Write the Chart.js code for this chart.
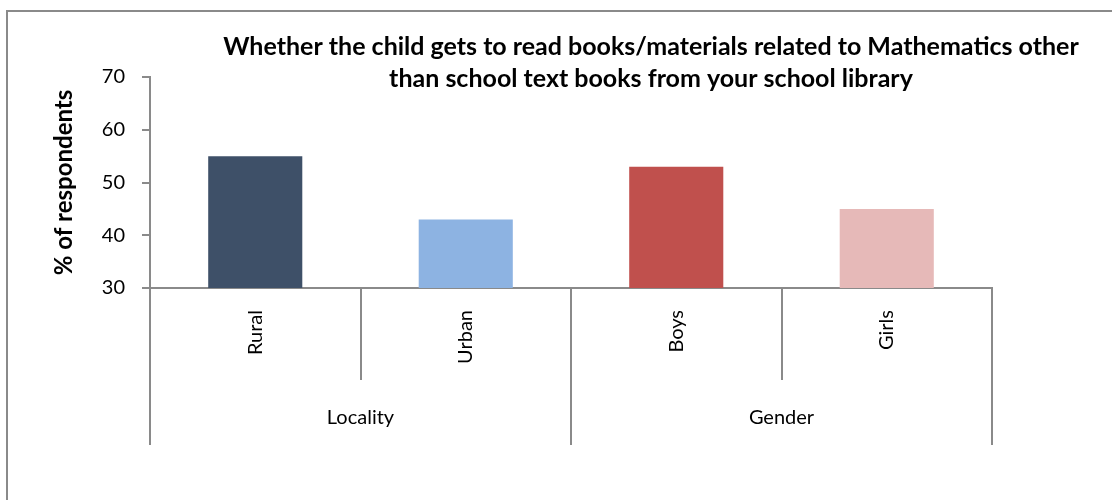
<!DOCTYPE html>
<html>
<head>
<meta charset="utf-8">
<script src="https://cdn.jsdelivr.net/npm/chart.js@4.4.1/dist/chart.umd.min.js"></script>
<style>
  html, body { margin: 0; padding: 0; background: #fff; overflow: hidden; }
  #frame {
    position: absolute; left: 6px; top: 10px; width: 1300px; height: 700px;
    border-left: 2px solid #8a8a8a; border-top: 2px solid #8a8a8a;
  }
  #wrap { position: absolute; left: 0; top: 0; width: 1112px; height: 500px; }
</style>
</head>
<body>
<div id="frame"></div>
<div id="wrap"><canvas id="grafico" width="1112" height="500"></canvas></div>
<script>
const categories = ['Rural', 'Urban', 'Boys', 'Girls'];
const values = [55, 43, 53, 45];
const barColors = ['#3e5068', '#8db3e2', '#c0504d', '#e6b9b8'];
const groups = ['Locality', 'Gender'];
const groupSizes = [2, 2];
const yTicks = [30, 40, 50, 60, 70];
const titleLines = [
  'Whether the child gets to read books/materials related to Mathematics other',
  'than school text books from your school library'
];

const AXIS_GRAY = '#8a8a8a';
const FONT = 'Lato';

// title sits off-centre, so it is drawn here instead of by the title plugin
const floatingTitle = {
  id: 'floatingTitle',
  afterDraw(chart, args, opts) {
    const ctx = chart.ctx;
    ctx.save();
    ctx.font = opts.font;
    ctx.fillStyle = '#000';
    ctx.textAlign = 'center';
    ctx.textBaseline = 'alphabetic';
    opts.lines.forEach((line, i) => {
      ctx.fillText(line, opts.x, opts.y + i * opts.lineHeight);
    });
    ctx.restore();
  }
};

// second level of the category axis: dividers + group names
const groupAxis = {
  id: 'groupAxis',
  afterDraw(chart, args, opts) {
    const x = chart.scales.x;
    const ctx = chart.ctx;
    const top = chart.chartArea.bottom;
    const w = (x.right - x.left) / categories.length;

    const edges = [0];
    groupSizes.forEach(n => edges.push(edges[edges.length - 1] + n));

    ctx.save();
    ctx.strokeStyle = AXIS_GRAY;
    ctx.lineWidth = 2;
    for (let i = 0; i <= categories.length; i++) {
      const px = Math.round(x.left + i * w);
      const len = edges.includes(i) ? opts.longTick : opts.shortTick;
      ctx.beginPath();
      ctx.moveTo(px, top);
      ctx.lineTo(px, top + len);
      ctx.stroke();
    }

    ctx.font = opts.font;
    ctx.fillStyle = '#000';
    ctx.textAlign = 'center';
    ctx.textBaseline = 'middle';
    groups.forEach((g, i) => {
      const cx = x.left + (edges[i] + edges[i + 1]) / 2 * w;
      ctx.fillText(g, cx, top + opts.labelOffset);
    });
    ctx.restore();
  }
};

const grafico = new Chart(document.getElementById('grafico'), {
  type: 'bar',
  data: {
    labels: categories,
    datasets: [{
      data: values,
      backgroundColor: barColors,
      borderWidth: 0,
      categoryPercentage: 1,
      barPercentage: 0.447
    }]
  },
  options: {
    responsive: false,
    devicePixelRatio: 1,
    animation: false,
    layout: { padding: { top: 77, right: 120, left: 0, bottom: 0 } },
    plugins: {
      legend: { display: false },
      tooltip: { enabled: false },
      title: { display: false },
      floatingTitle: {
        lines: titleLines,
        font: `bold 25px ${FONT}`,
        x: 651,
        y: 55,
        lineHeight: 32
      },
      groupAxis: {
        font: `20px ${FONT}`,
        shortTick: 92,
        longTick: 157,
        labelOffset: 130
      }
    },
    scales: {
      x: {
        grid: { display: false, drawTicks: false },
        border: { display: true, color: AXIS_GRAY, width: 2 },
        ticks: {
          autoSkip: false,
          maxRotation: 90,
          minRotation: 90,
          padding: 22,
          color: '#000',
          font: { family: FONT, size: 20 }
        },
        afterFit: s => { s.height = 212; }
      },
      y: {
        min: 30,
        max: 70,
        afterBuildTicks: s => { s.ticks = yTicks.map(v => ({ value: v })); },
        grid: {
          drawOnChartArea: false,
          drawTicks: true,
          tickLength: 8,
          color: AXIS_GRAY,
          lineWidth: 2
        },
        border: { display: true, color: AXIS_GRAY, width: 2 },
        ticks: {
          padding: 17,
          color: '#000',
          font: { family: FONT, size: 20 }
        },
        title: {
          display: true,
          text: '% of respondents',
          color: '#000',
          font: { family: FONT, size: 24, weight: 'bold' },
          padding: { top: 50, bottom: 0 }
        },
        afterFit: s => { s.width = 150; }
      }
    }
  },
  plugins: [floatingTitle, groupAxis]
});
</script>
</body>
</html>
